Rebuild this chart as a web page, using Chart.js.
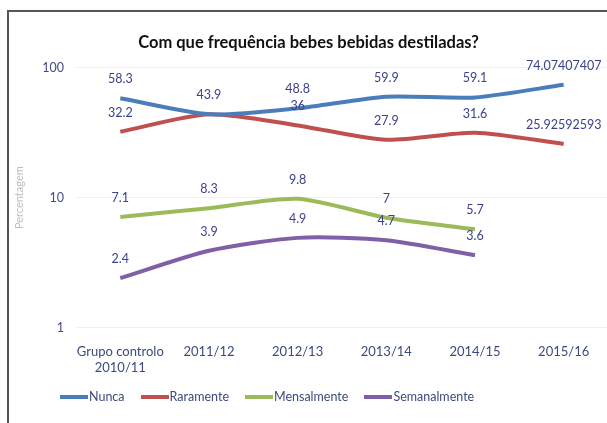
<!DOCTYPE html>
<html>
<head>
<meta charset="utf-8">
<script src="https://cdn.jsdelivr.net/npm/chart.js@4"></script>
<style>
  html, body { margin: 0; padding: 0; background: #fff; overflow: hidden; }
  body { width: 607px; height: 423px; position: relative; font-family: Lato, sans-serif; }
  #frame { position: absolute; left: 7px; top: 10px; width: 640px; height: 440px;
           border-left: 2px solid #555; border-top: 2px solid #555; }
  #chart { position: absolute; left: 9px; top: 12px; }
  #legend { position: absolute; left: 60px; top: 389px; display: flex; gap: 16px;
            font-size: 12.5px; color: #3d4a7d; }
  #legend .item { display: flex; align-items: center; }
  #legend .swatch { display: inline-block; width: 28px; height: 4px; margin-right: 1px; }
</style>
</head>
<body>
<div id="frame"></div>
<canvas id="chart" width="599" height="380"></canvas>
<div id="legend"></div>
<script>
// Categories and tick labels
const categories = [['Grupo controlo', '2010/11'], '2011/12', '2012/13', '2013/14', '2014/15', '2015/16'];
const yTicks = [1, 10, 100];

// Series values (percent)
const nunca = [58.3, 43.9, 48.8, 59.9, 59.1, 74.07407407];
const raramente = [32.2, 43.9, 36, 27.9, 31.6, 25.92592593];
const mensalmente = [7.1, 8.3, 9.8, 7, 5.7, null];
const semanalmente = [2.4, 3.9, 4.9, 4.7, 3.6, null];

const seriesNames = ['Nunca', 'Raramente', 'Mensalmente', 'Semanalmente'];
const seriesColors = ['#4a7ebb', '#c0504d', '#9bbb59', '#7f5fa8'];
const seriesData = [nunca, raramente, mensalmente, semanalmente];

const textBlue = '#3d4a7d';

// draws the value above every point (same text at same spot only once)
const valueLabels = {
    id: 'valueLabels',
    afterDatasetsDraw(chart) {
        const ctx = chart.ctx;
        const seen = new Set();
        ctx.save();
        ctx.font = '12.5px Lato, sans-serif';
        ctx.fillStyle = '#3d418c';
        ctx.textAlign = 'center';
        ctx.textBaseline = 'middle';
        chart.data.datasets.forEach((ds, i) => {
            const meta = chart.getDatasetMeta(i);
            meta.data.forEach((pt, j) => {
                const v = ds.data[j];
                if (v === null || v === undefined) return;
                const key = j + ':' + v;
                if (seen.has(key)) return;
                seen.add(key);
                ctx.fillText(String(v), pt.x, pt.y - 19);
            });
        });
        ctx.restore();
    }
};

new Chart(document.getElementById('chart'), {
    type: 'line',
    data: {
        labels: categories,
        datasets: seriesNames.map((name, i) => ({
            label: name,
            data: seriesData[i],
            borderColor: seriesColors[i],
            backgroundColor: seriesColors[i],
            borderWidth: 4,
            pointRadius: 0,
            tension: 0.25,
            fill: false
        }))
    },
    options: {
        responsive: false,
        animation: false,
        layout: { padding: 0 },
        scales: {
            x: {
                offset: true,
                grid: { display: false, drawTicks: false },
                border: { display: false },
                ticks: {
                    color: textBlue,
                    padding: 16,
                    autoSkip: false,
                    maxRotation: 0,
                    font: { family: 'Lato', size: 13, lineHeight: 1.25 }
                }
            },
            y: {
                type: 'logarithmic',
                min: 1,
                max: 100,
                afterBuildTicks: axis => { axis.ticks = yTicks.map(v => ({ value: v })); },
                grid: { color: '#efefef', drawTicks: false },
                border: { display: false },
                ticks: {
                    color: '#454a8a',
                    padding: 12,
                    font: { family: 'Lato', size: 12.5 },
                    callback: v => String(v)
                },
                title: {
                    display: true,
                    text: 'Percentagem',
                    color: '#bdbdbd',
                    font: { family: 'Lato', size: 11 }
                }
            }
        },
        plugins: {
            title: {
                display: true,
                text: 'Com que frequência bebes bebidas destiladas?',
                color: '#111',
                font: { family: 'Lato', size: 16.5, weight: 'bold' },
                padding: { top: 21, bottom: 15 }
            },
            legend: { display: false },
            tooltip: { enabled: false }
        }
    },
    plugins: [valueLabels]
});

// HTML legend built from the series lists
const legend = document.getElementById('legend');
seriesNames.forEach((name, i) => {
    const item = document.createElement('div');
    item.className = 'item';
    const sw = document.createElement('span');
    sw.className = 'swatch';
    sw.style.background = seriesColors[i];
    const txt = document.createElement('span');
    txt.textContent = name;
    item.appendChild(sw);
    item.appendChild(txt);
    legend.appendChild(item);
});
</script>
</body>
</html>
